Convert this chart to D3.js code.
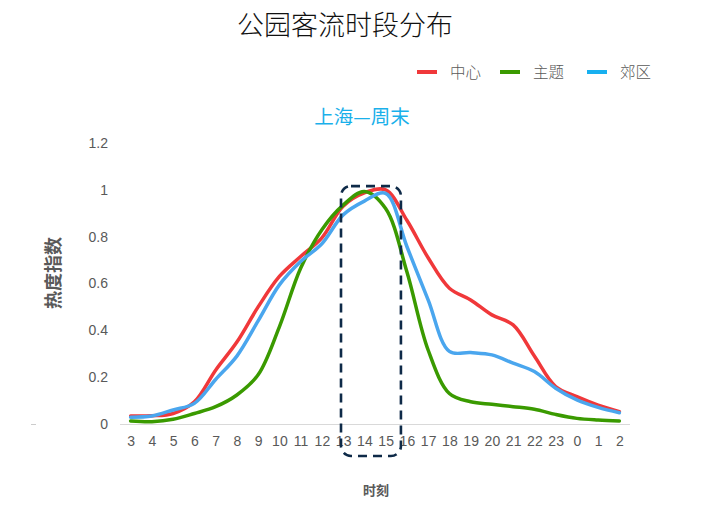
<!DOCTYPE html>
<html><head><meta charset="utf-8">
<script src="https://cdn.jsdelivr.net/npm/d3@7"></script>
<style>body{margin:0;background:#fff;font-family:"Noto Sans CJK SC","Noto Sans",sans-serif;}</style>
</head><body><svg id="c" width="707" height="516"></svg>
<script>
const hours = ["3","4","5","6","7","8","9","10","11","12","13","14","15","16","17","18","19","20","21","22","23","0","1","2"];
const center = [0.034,0.035,0.045,0.095,0.23,0.35,0.50,0.63,0.715,0.795,0.93,0.987,1.0,0.87,0.71,0.58,0.53,0.466,0.423,0.29,0.16,0.117,0.081,0.053];
const theme  = [0.013,0.01,0.02,0.045,0.074,0.124,0.21,0.415,0.665,0.83,0.935,0.993,0.92,0.65,0.316,0.13,0.095,0.084,0.074,0.063,0.041,0.024,0.017,0.013];
const suburb = [0.029,0.034,0.06,0.088,0.19,0.29,0.44,0.594,0.694,0.77,0.893,0.952,0.985,0.758,0.53,0.31,0.305,0.295,0.26,0.224,0.153,0.103,0.071,0.048];
const yTicks = [0,0.2,0.4,0.6,0.8,1,1.2];
const seriesNames = ["中心","主题","郊区"];
const lineColors = ["#f0383a","#3a9a00","#4aa6ee"];
const legendColors = ["#f0383a","#3a9a00","#17b0f0"];

const svg = d3.select("#c");
const x = d3.scalePoint().domain(hours).range([120,630]).padding(0.5);
const y = d3.scaleLinear().domain([0,1.2]).range([424,143]);

svg.append("text").attr("x",345).attr("y",35).attr("text-anchor","middle")
  .attr("font-size",27).attr("fill","#111").attr("font-weight",300).text("公园客流时段分布");

// legend
const legX = [417,500,587];
seriesNames.forEach((n,i)=>{
  svg.append("line").attr("x1",legX[i]).attr("x2",legX[i]+20).attr("y1",72).attr("y2",72)
    .attr("stroke",legendColors[i]).attr("stroke-width",4);
  svg.append("text").attr("x",legX[i]+33).attr("y",78).attr("font-size",15.5).attr("font-weight",300).attr("fill","#595959").text(n);
});

svg.append("text").attr("x",362).attr("y",124).attr("text-anchor","middle")
  .attr("font-size",19.5).attr("fill","#1ab0ea").text("上海—周末");

// y axis
const ya = svg.append("g").attr("transform","translate(108,0)")
  .call(d3.axisLeft(y).tickValues(yTicks).tickSize(0).tickPadding(0).tickFormat(d3.format("~g")));
ya.select(".domain").remove();
ya.selectAll("text").attr("font-size",14).attr("fill","#595959").attr("font-family","Liberation Sans, Arial, sans-serif");

svg.append("line").attr("x1",31).attr("x2",36).attr("y1",424.5).attr("y2",424.5).attr("stroke","#ccc");

// x axis
const xa = svg.append("g").attr("transform","translate(0,424)")
  .call(d3.axisBottom(x).tickSize(0).tickPadding(12));
xa.select(".domain").attr("stroke","#d9d9d9").attr("d","M120,0.5H630");
xa.selectAll("text").attr("font-size",14).attr("fill","#595959").attr("font-family","Liberation Sans, Arial, sans-serif");

svg.append("text").attr("transform","translate(60,273) rotate(-90)").attr("text-anchor","middle")
  .attr("font-size",18).attr("font-weight","bold").attr("fill","#595959").text("热度指数");
svg.append("text").attr("x",376).attr("y",495).attr("text-anchor","middle")
  .attr("font-size",13).attr("font-weight","bold").attr("fill","#595959").text("时刻");

// lines
const line = d3.line().x((d,i)=>x(hours[i])).y(d=>y(d)).curve(d3.curveCatmullRom.alpha(0.5));
[center,theme,suburb].forEach((s,i)=>{
  svg.append("path").attr("d",line(s)).attr("fill","none").attr("stroke",lineColors[i])
    .attr("stroke-width",3.5).attr("stroke-linejoin","round").attr("stroke-linecap","round");
});

// highlight box
const step = x.step();
const bx0 = x("13") - 0.1*step, bx1 = x("15") + 0.72*step;
svg.append("rect").attr("x",bx0).attr("y",y(1.016)).attr("width",bx1-bx0).attr("height",456-y(1.016))
  .attr("rx",10).attr("ry",10).attr("fill","none").attr("stroke","#0e2a48")
  .attr("stroke-width",2.6).attr("stroke-dasharray","9,6");
</script></body></html>
